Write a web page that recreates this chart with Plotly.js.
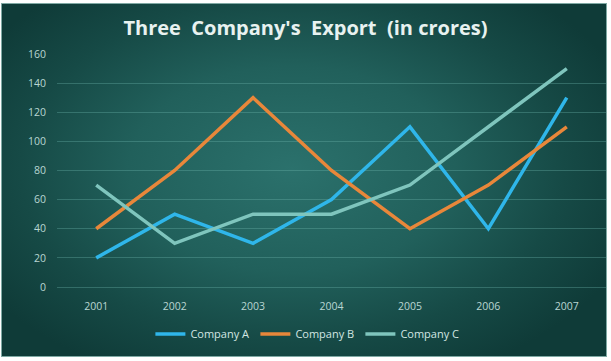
<!DOCTYPE html>
<html>
<head>
<meta charset="utf-8">
<script src="https://cdn.plot.ly/plotly-3.0.1.min.js"></script>
<style>
html,body{margin:0;padding:0;background:#fff;}
#wrap{position:relative;width:611px;height:361px;overflow:hidden;background:#fff;}
#bg{position:absolute;left:1px;top:3px;width:604px;height:352px;border:1px solid #7fa9a4;
background:radial-gradient(ellipse 60% 65% at 48% 47%, #2b716c 0%, #21605b 45%, #164a46 75%, #0f3b38 100%);}
#chart{position:absolute;left:0;top:0;width:611px;height:361px;}
</style>
</head>
<body>
<div id="wrap"><div id="bg"></div><div id="chart"></div></div>
<script>
const years = ['2001','2002','2003','2004','2005','2006','2007'];
const companyA = [20, 50, 30, 60, 110, 40, 130];
const companyB = [40, 80, 130, 80, 40, 70, 110];
const companyC = [70, 30, 50, 50, 70, 110, 150];
const seriesNames = ['Company A','Company B','Company C'];
const colors = ['#2fb6ea','#e8873a','#7fc5bd'];
const seriesVals = [companyA, companyB, companyC];

const traces = seriesVals.map((v,i)=>({
  x: years, y: v, type:'scatter', mode:'lines', name: seriesNames[i],
  line:{color:colors[i], width:3.5}
}));

const layout = {
  width:611, height:361,
  paper_bgcolor:'rgba(0,0,0,0)', plot_bgcolor:'rgba(0,0,0,0)',
  margin:{l:57, r:5, t:54, b:74, autoexpand:false},
  title:{text:'Three  Company\'s  Export  (in crores)', x:0.5, xanchor:'center', y:0.922, yanchor:'middle',
    font:{family:'Open Sans, sans-serif', size:20, color:'#e8f2f0', weight:'bold'}},
  xaxis:{type:'category', range:[-0.5,6.5], showgrid:false, zeroline:false, showline:false,
    ticks:'outside', ticklen:9, tickcolor:'rgba(0,0,0,0)',
    tickfont:{family:'Open Sans, sans-serif', size:10.5, color:'#b9d6d2'}, fixedrange:true},
  yaxis:{range:[0,160], dtick:20, showgrid:true, gridcolor:'rgba(110,180,172,0.35)', gridwidth:1,
    zeroline:true, zerolinecolor:'rgba(110,180,172,0.35)', showline:false,
    ticks:'outside', ticklen:8, tickcolor:'rgba(0,0,0,0)',
    tickfont:{family:'Open Sans, sans-serif', size:10.5, color:'#b9d6d2'}, fixedrange:true},
  legend:{orientation:'h', x:0.457, xanchor:'center', y:-0.14, yanchor:'top',
    font:{family:'Open Sans, sans-serif', size:11, color:'#d2e6e3'}, bgcolor:'rgba(0,0,0,0)',
    itemwidth:30, entrywidth:60, entrywidthmode:'pixels', traceorder:'normal'},
  showlegend:true
};
Plotly.newPlot('chart', traces, layout, {displayModeBar:false, staticPlot:true});
</script>
</body>
</html>
